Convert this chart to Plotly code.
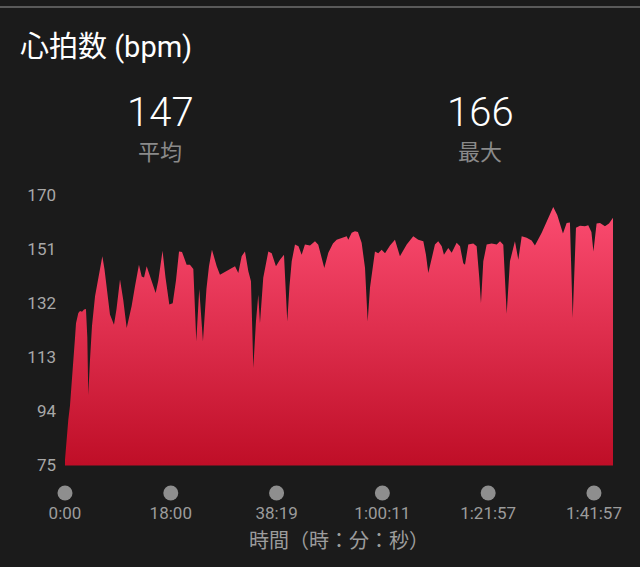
import plotly.graph_objects as go

# ---- data ----
position = [0, 1.4, 3.1, 4.7, 7.3, 9.5, 10.4, 12.6, 14.2, 16.1, 18.0, 19.8, 21.1, 22.0, 23.6, 25.5,
            28.4, 31.5, 35.3, 37.3, 39.4, 42.5, 46.3, 48.7, 52.0, 55.1, 58.3, 60.5, 63.0, 66.2, 69.9,
            72.5, 74.7, 77.2, 79.9, 83.2, 85.7, 88.2, 92.2, 95.0, 98.6, 101.8, 104.9, 107.8, 110.6,
            115.0, 118.1, 121.3, 124.1, 126.9, 130.4, 133.7, 136.1, 138.9, 143.4, 146.5, 151.2, 156.0,
            160.7, 163.8, 167.0, 170.1, 173.3, 175.8, 178.0, 180.5, 182.7, 184.3, 187.4, 192.2, 195.4,
            199.4, 203.2, 207.0, 208.4, 210.1, 212.2, 214.3, 217.4, 220.7, 223.7, 226.8, 231.6, 236.3,
            239.4, 242.6, 245.1, 248.9, 253.3, 256.8, 262.8, 266.3, 267.8, 271.0, 274.1, 276.9, 280.4,
            283.6, 286.1, 288.3, 293.0, 296.1, 299.3, 302.5, 307.2, 311.9, 316.6, 323.0, 329.2, 333.9,
            338.7, 341.2, 343.4, 346.6, 349.7, 352.8, 356.1, 358.2, 362.3, 365.5, 370.2, 373.4, 376.5,
            378.1, 381.2, 385.9, 389.1, 391.6, 393.2, 395.4, 398.6, 403.3, 408.1, 411.2, 414.3, 417.5,
            420.6, 425.3, 428.5, 431.7, 436.4, 441.1, 444.2, 450.6, 455.3, 458.4, 461.5, 465.3, 469.5,
            470.7, 474.2, 477.3, 479.9, 483.0, 486.8, 491.5, 494.6, 497.6, 499.5, 502.5, 505.7, 510.4,
            514.2, 518.0]
heart_rate = [77, 84, 91, 96, 107.4, 120, 125, 128.6, 129.3, 129, 129.8, 130, 120, 99.8, 112, 124,
              134.4, 140.9, 148.5, 144, 136.7, 128, 124.4, 130, 140.3, 133, 123.3, 127, 131, 138, 145.5,
              141.4, 141, 145, 142, 138, 135.6, 140, 150.4, 141, 131.5, 132, 140, 150.2, 150,
              145.5, 145.5, 144, 118.6, 137, 118.6, 137, 145, 150.8, 145, 142, 143, 143.8,
              145, 142.6, 148.5, 150.2, 143.2, 139.7, 109.2, 125.6, 135, 125, 140.9, 150.2, 149.5,
              145, 147.3, 149, 140, 125.6, 138, 146.7, 152.6, 152, 149, 152.6, 152.3, 153.8,
              152.5, 147.3, 144.4, 149.7, 153, 154.3, 155, 155.5, 154.3, 156.7, 157.3, 157, 153.2,
              144.4, 125.6, 137.5, 150.2, 149.5, 150.8, 149.5, 152.3, 154.3, 148.5, 152.6, 155.5, 154.3,
              153.8, 149, 142.6, 148, 152.6, 153.8, 152, 149, 151.4, 149.7, 153.2, 152, 146,
              145.5, 152.6, 153, 152, 140.9, 132.1, 146.7, 152.6, 153, 152.6, 153.8, 152.5, 128.3,
              146.7, 153.8, 147.3, 155.5, 155, 154, 152.3, 156.7, 160.8, 163, 165.8, 163, 157.3,
              156.5, 160.2, 160.3, 126.8, 158.5, 159.2, 159, 159.4, 157, 150.2, 160, 160.2, 159,
              160, 162]

x_tick_positions = [0, 100, 200, 300, 400, 500]
x_tick_labels = ["0:00", "18:00", "38:19", "1:00:11", "1:21:57", "1:41:57"]
y_tick_values = [75, 94, 113, 132, 151, 170]

avg_hr = 147
max_hr = 166

title_text = "心拍数 (bpm)"
avg_label = "平均"
max_label = "最大"
x_title = "時間（時：分：秒）"

# ---- figure ----
BG = "#1b1b1b"
FONT = "Roboto, 'Noto Sans CJK JP', sans-serif"
H = 567.0


def py(p):
    return 1 - p / H


fig = go.Figure()

fig.add_trace(go.Scatter(
    x=position, y=heart_rate, mode="lines", fill="tozeroy",
    line=dict(width=0, color="#f04a6c"),
    fillgradient=dict(type="vertical", start=75, stop=170,
                      colorscale=[[0, "#bf0e27"], [1, "#fe4f74"]]),
    hoverinfo="skip", xaxis="x", yaxis="y",
))

fig.add_trace(go.Scatter(
    x=x_tick_positions, y=[0] * len(x_tick_positions), mode="markers",
    marker=dict(size=15, color="#8e8e8e"), cliponaxis=False,
    hoverinfo="skip", xaxis="x", yaxis="y2",
))

fig.update_layout(
    template="none",
    width=640, height=567, autosize=False,
    paper_bgcolor=BG, plot_bgcolor=BG,
    margin=dict(l=65, r=27, t=0, b=0, pad=0),
    showlegend=False,
    font=dict(family=FONT, color="#a0a0a0"),
    xaxis=dict(
        range=[0, 518], anchor="y2", domain=[0, 1], automargin=False,
        tickvals=x_tick_positions, ticktext=x_tick_labels,
        tickfont=dict(size=17, color="#9c9c9c", family=FONT),
        showgrid=False, zeroline=False, showline=False, ticks="",
        title=dict(text=x_title, font=dict(size=20, color="#9c9c9c", family=FONT), standoff=11),
        fixedrange=True,
    ),
    yaxis=dict(
        range=[75, 170], domain=[py(465.5), py(195)], automargin=False,
        tickvals=y_tick_values,
        tickfont=dict(size=17, color="#a8a8a8", family=FONT),
        showgrid=False, zeroline=False, showline=False, ticks="",
        ticklabelstandoff=8, fixedrange=True,
    ),
    yaxis2=dict(
        range=[-1, 1], domain=[py(501), py(485)], automargin=False,
        visible=False, fixedrange=True,
    ),
    shapes=[dict(type="line", xref="paper", yref="paper", x0=-0.2, x1=1.2,
                 y0=py(7), y1=py(7), line=dict(color="#5a5a5a", width=2))],
)

annotations = [
    dict(text=title_text, x=18, y=py(47), font=dict(size=29, color="#ffffff")),
    dict(text=str(avg_hr), x=160.5, y=py(112), font=dict(size=40, color="#ffffff", weight=300), xanchor="center"),
    dict(text=avg_label, x=160, y=py(153), font=dict(size=22, color="#8a8a8a"), xanchor="center"),
    dict(text=str(max_hr), x=480.5, y=py(112), font=dict(size=40, color="#ffffff", weight=300), xanchor="center"),
    dict(text=max_label, x=480, y=py(153), font=dict(size=22, color="#8a8a8a"), xanchor="center"),
]
for a in annotations:
    xa = a.pop("xanchor", "left")
    a["font"]["family"] = FONT
    fig.add_annotation(
        text=a["text"], xref="paper", yref="paper",
        x=(a["x"] - 65) / (640 - 65 - 27), y=a["y"],
        xanchor=xa, yanchor="middle", showarrow=False, font=a["font"],
    )

fig.write_html(
    "out.html",
    config={"displayModeBar": False, "responsive": False},
    default_width="640px", default_height="567px",
    post_script="document.body.style.margin='0';document.body.style.background='#1b1b1b';",
)
